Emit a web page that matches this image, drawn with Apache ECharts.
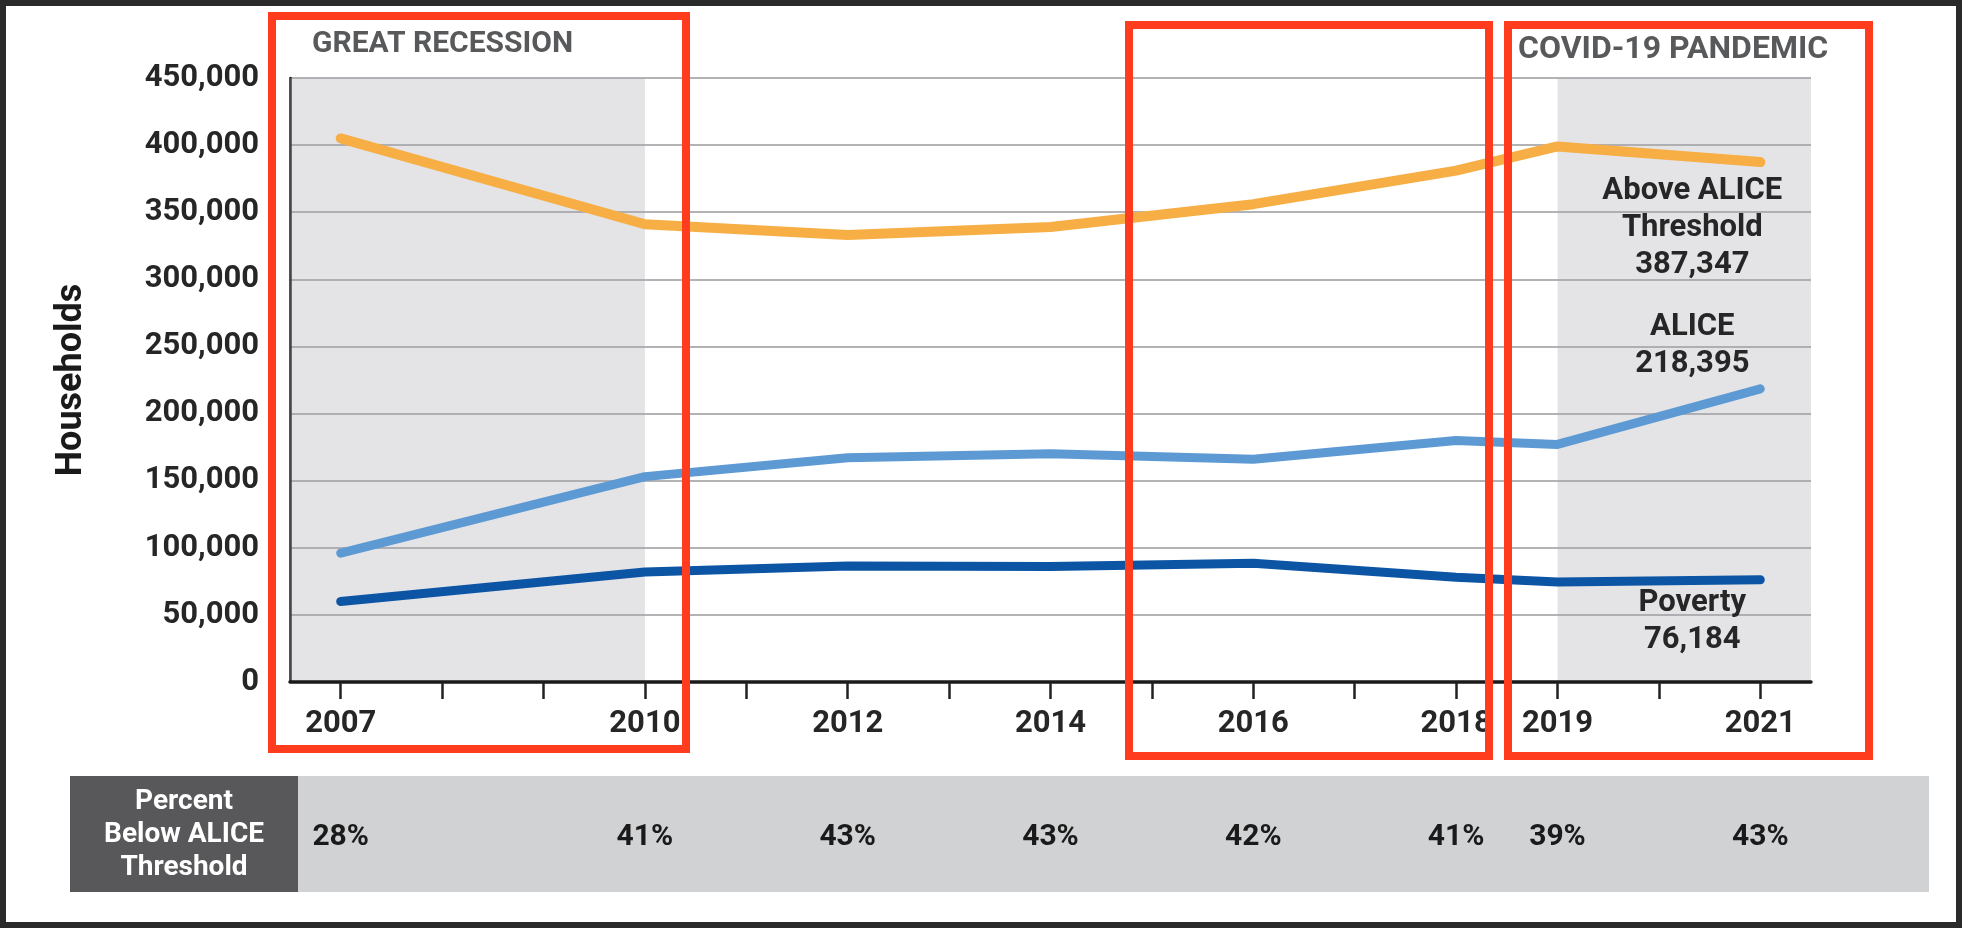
<!DOCTYPE html>
<html>
<head>
<meta charset="utf-8">
<script src="https://cdn.jsdelivr.net/npm/echarts@6/dist/echarts.min.js"></script>
<style>
html,body{margin:0;padding:0;background:#fff;}
#chart{width:1963px;height:929px;}
</style>
</head>
<body>
<div id="chart"></div>
<script>
// ---- data ----
const years = [2007, 2010, 2012, 2014, 2016, 2018, 2019, 2021];
const tickYears = [2007, 2008, 2009, 2010, 2011, 2012, 2013, 2014, 2015, 2016, 2017, 2018, 2019, 2020, 2021];
const aboveAlice = [405000, 341000, 333000, 339000, 356000, 381000, 399000, 387347];
const alice = [96000, 153000, 167000, 170000, 166000, 180000, 177000, 218395];
const poverty = [60000, 82000, 86500, 86000, 88500, 78000, 74500, 76184];
const pctBelow = [28, 41, 43, 43, 42, 41, 39, 43];
const seriesNames = ['Above ALICE\nThreshold', 'ALICE', 'Poverty'];
const periods = [
  { name: 'GREAT RECESSION', from: null, to: 2010 },
  { name: 'COVID-19 PANDEMIC', from: 2019, to: null }
];
const yTicks = { min: 0, max: 450000, interval: 50000 };

// ---- chart ----
const FONT = 'Roboto, "Noto Sans", sans-serif';
const TXT = '#262626';
const xMin = 2006.5, xMax = 2021.5;
const fmt = v => Math.round(v).toLocaleString('en-US');

function buildData(vals, name, labelOffset) {
  return years.map((y, i) => {
    const item = { value: [y, vals[i]] };
    if (i === years.length - 1) {
      item.label = {
        show: true,
        position: 'inside',
        offset: labelOffset,
        align: 'center',
        verticalAlign: 'middle',
        formatter: () => name + '\n' + fmt(vals[i]),
        fontFamily: FONT,
        fontSize: 31,
        fontWeight: 'bold',
        lineHeight: 37,
        color: TXT
      };
    }
    return item;
  });
}

const lineBase = {
  type: 'line',
  xAxisIndex: 0,
  yAxisIndex: 0,
  symbol: 'circle',
  symbolSize: 1,
  showSymbol: true,
  showAllSymbol: true,
  silent: true,
  emphasis: { disabled: true },
  z: 5
};

const chart = echarts.init(document.getElementById('chart'), null, { renderer: 'canvas' });

const option = {
  animation: false,
  backgroundColor: '#ffffff',
  grid: { left: 290, right: 152, top: 78, bottom: 247, containLabel: false },
  xAxis: [
    {
      type: 'value',
      min: xMin,
      max: xMax,
      splitLine: { show: false },
      axisLine: { show: true, lineStyle: { color: '#1a1a1a', width: 3.5 } },
      axisTick: {
        show: true,
        customValues: tickYears,
        length: 17,
        lineStyle: { color: '#222', width: 2.5 }
      },
      axisLabel: {
        customValues: years,
        margin: 27,
        fontFamily: FONT,
        fontSize: 31,
        fontWeight: 'bold',
        color: TXT,
        formatter: v => String(v)
      },
      z: 3
    },
    {
      type: 'value',
      min: xMin,
      max: xMax,
      position: 'bottom',
      offset: 128,
      splitLine: { show: false },
      axisLine: { show: false },
      axisTick: { show: false },
      axisLabel: {
        customValues: years,
        margin: 12,
        fontFamily: FONT,
        fontSize: 30,
        fontWeight: 'bold',
        color: '#1a1a1a',
        formatter: v => pctBelow[years.indexOf(Math.round(v))] + '%'
      },
      z: 3
    }
  ],
  yAxis: {
    type: 'value',
    min: yTicks.min,
    max: yTicks.max,
    interval: yTicks.interval,
    name: 'Households',
    nameLocation: 'middle',
    nameGap: 200,
    nameTextStyle: { fontFamily: FONT, fontSize: 36, fontWeight: 'bold', color: '#1a1a1a' },
    axisLine: { show: true, lineStyle: { color: '#1a1a1a', width: 2.5 } },
    axisTick: { show: false },
    splitLine: { show: true, lineStyle: { color: '#b3b3b5', width: 2 } },
    axisLabel: {
      margin: 31,
      fontFamily: FONT,
      fontSize: 31,
      fontWeight: 'bold',
      color: TXT,
      formatter: v => fmt(v)
    }
  },
  series: [
    Object.assign({}, lineBase, {
      name: 'Above ALICE Threshold',
      data: buildData(aboveAlice, seriesNames[0], [-68, 66]),
      lineStyle: { color: '#f6ae45', width: 10, cap: 'round', join: 'round' },
      itemStyle: { color: '#f6ae45' },
      markArea: {
        silent: true,
        itemStyle: { color: 'rgba(165,165,175,0.3)' },
        label: { show: false },
        data: periods.map(p => [
          { xAxis: p.from === null ? xMin : p.from, yAxis: yTicks.min },
          { xAxis: p.to === null ? xMax : p.to, yAxis: yTicks.max }
        ])
      }
    }),
    Object.assign({}, lineBase, {
      name: 'ALICE',
      data: buildData(alice, seriesNames[1], [-68, -43]),
      lineStyle: { color: '#5d9ad4', width: 9, cap: 'round', join: 'round' },
      itemStyle: { color: '#5d9ad4' }
    }),
    Object.assign({}, lineBase, {
      name: 'Poverty',
      data: buildData(poverty, seriesNames[2], [-68, 42]),
      lineStyle: { color: '#0c55a5', width: 9, cap: 'round', join: 'round' },
      itemStyle: { color: '#0c55a5' }
    })
  ],
  graphic: [
    // percent row background
    { type: 'rect', z: -10, silent: true, shape: { x: 298, y: 776, width: 1631, height: 116 }, style: { fill: '#d1d2d4' } },
    { type: 'rect', z: -9, silent: true, shape: { x: 70, y: 776, width: 228, height: 116 }, style: { fill: '#58585a' } },
    { type: 'text', z: 10, silent: true, style: { x: 184, y: 835, text: 'Percent\nBelow ALICE\nThreshold', align: 'center', verticalAlign: 'middle', fill: '#ffffff', fontFamily: FONT, fontSize: 28, fontWeight: 'bold', lineHeight: 33 } },
    // period titles
    { type: 'text', z: 10, silent: true, style: { x: 312, y: 44, text: periods[0].name, align: 'left', verticalAlign: 'middle', fill: '#58595b', fontFamily: FONT, fontSize: 30, fontWeight: 'bold' } },
    { type: 'text', z: 10, silent: true, style: { x: 1518, y: 50, text: periods[1].name, align: 'left', verticalAlign: 'middle', fill: '#58595b', fontFamily: FONT, fontSize: 32, fontWeight: 'bold' } },
    // red highlight boxes
    { type: 'rect', z: 100, silent: true, shape: { x: 272, y: 16, width: 414, height: 733 }, style: { fill: 'none', stroke: '#ff3c1e', lineWidth: 8 } },
    { type: 'rect', z: 100, silent: true, shape: { x: 1129, y: 25, width: 360, height: 731 }, style: { fill: 'none', stroke: '#ff3c1e', lineWidth: 8 } },
    { type: 'rect', z: 100, silent: true, shape: { x: 1508, y: 25, width: 361, height: 731 }, style: { fill: 'none', stroke: '#ff3c1e', lineWidth: 8 } },
    // outer frame
    { type: 'rect', z: 100, silent: true, shape: { x: 3, y: 3, width: 1956, height: 922 }, style: { fill: 'none', stroke: '#2a2a2a', lineWidth: 6 } }
  ]
};

chart.setOption(option);
</script>
</body>
</html>
